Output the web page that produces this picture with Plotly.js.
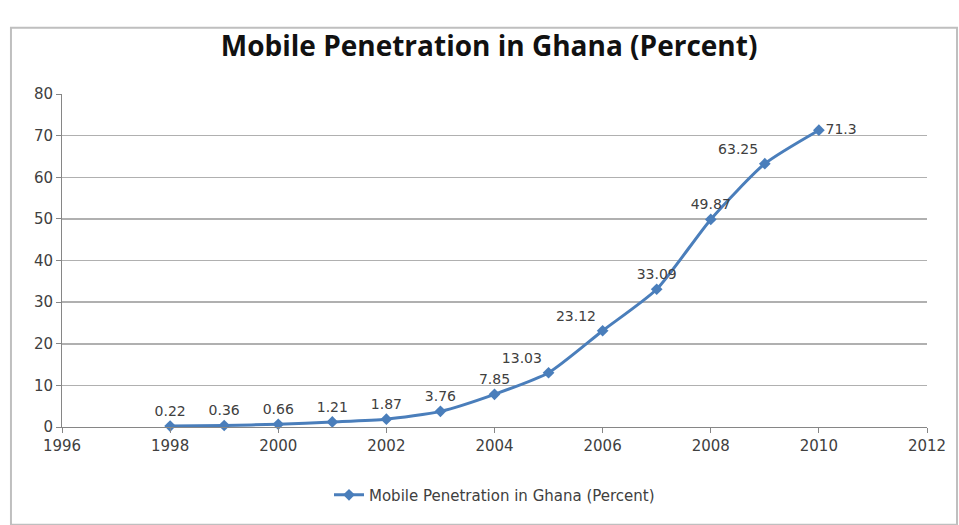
<!DOCTYPE html>
<html>
<head>
<meta charset="utf-8">
<script src="https://cdn.plot.ly/plotly-3.0.1.min.js"></script>
<style>html,body{margin:0;padding:0;background:#fff;}#chart{width:959px;height:525px;}</style>
</head>
<body>
<div id="chart"></div>
<script>
var years = [1998, 1999, 2000, 2001, 2002, 2003, 2004, 2005, 2006, 2007, 2008, 2009, 2010];
var penetration = [0.22, 0.36, 0.66, 1.21, 1.87, 3.76, 7.85, 13.03, 23.12, 33.09, 49.87, 63.25, 71.3];
var labels = ["0.22", "0.36", "0.66", "1.21", "1.87", "3.76", "7.85", "13.03", "23.12", "33.09", "49.87", "63.25", "71.3"];
var labelPositions = ["top center", "top center", "top center", "top center", "top center", "top center", "top center",
                      "top left", "top left", "top center", "top center", "top left", "middle right"];
var seriesName = "Mobile Penetration in Ghana (Percent)";
var xTicks = [1996, 1998, 2000, 2002, 2004, 2006, 2008, 2010, 2012];
var yTicks = [0, 10, 20, 30, 40, 50, 60, 70, 80];

var baseFont = "'DejaVu Sans', 'Open Sans', sans-serif";

var trace = {
  x: years, y: penetration, name: seriesName,
  type: "scatter", mode: "lines+markers+text",
  line: {color: "#4A7EBB", width: 3, shape: "spline", smoothing: 0.6},
  marker: {symbol: "diamond", size: 9, color: "#4A7EBB"},
  text: labels, textposition: labelPositions,
  textfont: {family: baseFont, size: 14, color: "#404040"},
  cliponaxis: false, showlegend: true
};

var layout = {
  width: 959, height: 525,
  margin: {l: 62, r: 32, t: 94, b: 98},
  paper_bgcolor: "#ffffff", plot_bgcolor: "#ffffff",
  title: {text: "<b>Mobile Penetration in Ghana (Percent)</b>",
          font: {family: "'Open Sans', Lato, sans-serif", size: 28, color: "#111111"},
          x: 0.51, xanchor: "center", y: 0.912, yanchor: "middle"},
  xaxis: {range: [1996, 2012], tickvals: xTicks, ticktext: xTicks.map(String),
          showgrid: false, zeroline: false, showline: true, linecolor: "#868686", linewidth: 1,
          ticks: "outside", ticklen: 5, tickcolor: "#868686",
          tickfont: {family: baseFont, size: 15, color: "#404040"}},
  yaxis: {range: [0, 80], tickvals: yTicks, ticktext: yTicks.map(String),
          showgrid: true, gridcolor: "#b0b0b0", gridwidth: 1.5, zeroline: false,
          showline: true, linecolor: "#868686", linewidth: 1,
          ticks: "outside", ticklen: 5, tickcolor: "#868686",
          tickfont: {family: baseFont, size: 15, color: "#404040"}},
  showlegend: true,
  legend: {orientation: "h", x: 0.5, xanchor: "center", y: -0.155, yanchor: "top",
           font: {family: baseFont, size: 15, color: "#404040"}},
  shapes: [{type: "rect", xref: "paper", yref: "paper", layer: "below",
            x0: -0.0590, x1: 1.0347, y0: -0.2933, y1: 1.1988,
            line: {color: "#bfbfbf", width: 2}, fillcolor: "rgba(0,0,0,0)"}]
};

Plotly.newPlot("chart", [trace], layout, {displayModeBar: false, staticPlot: true});
</script>
</body>
</html>
